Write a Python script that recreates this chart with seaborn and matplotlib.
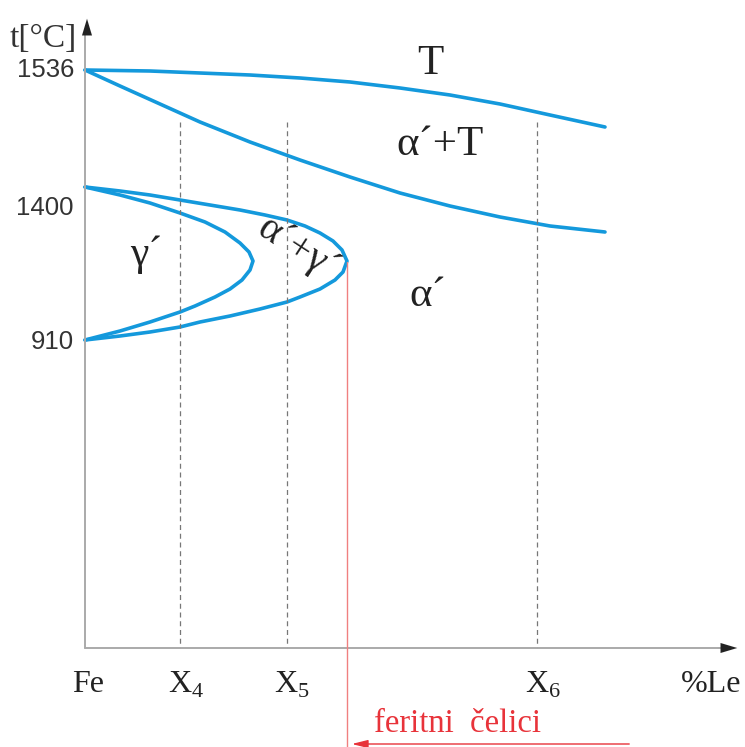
import matplotlib
matplotlib.use("Agg")
import matplotlib.pyplot as plt
import seaborn as sns
import pandas as pd

# --- data (schematic diagram, coordinates in figure pixels) ---
liq_x = [85, 150, 200, 250, 300, 350, 400, 450, 500, 550, 605]
liq_y = [70, 71, 73, 75, 78, 82, 88, 95, 104, 115, 127]

sol_x = [85, 120, 160, 200, 250, 300, 350, 400, 450, 500, 550, 605]
sol_y = [70, 86, 104, 122, 142, 160, 177, 193, 206, 217, 226, 232]

outer_x = [85, 120, 150, 180, 210, 240, 265, 287, 305, 320, 333, 342, 347,
           343, 335, 320, 300, 287, 260, 230, 200, 180, 150, 120, 85]
outer_y = [187, 191, 195, 200, 205, 210, 215, 220, 226, 233, 241, 250, 261,
           272, 280, 289, 297, 302, 309, 316, 322, 327, 332, 336, 340]

inner_x = [85, 120, 150, 180, 205, 225, 240, 249, 253, 250, 242, 230, 215,
           195, 180, 150, 120, 85]
inner_y = [187, 195, 203, 213, 222, 232, 243, 252, 261, 270, 280, 289, 297,
           306, 312, 322, 331, 340]

y_tick_labels = ["1536", "1400", "910"]
y_tick_pos = [70, 208, 342]
x_tick_labels = ["Fe", r"X$_\mathregular{4}$", r"X$_\mathregular{5}$",
                 r"X$_\mathregular{6}$", "%Le"]
x_tick_pos = [88, 186, 292, 543, 711]
dash_x = [180, 287, 537]
ferrite_x = 347

sns.set_theme(style="white")
plt.rcParams["font.family"] = ["Liberation Serif", "DejaVu Serif"]
plt.rcParams["mathtext.fontset"] = "custom"
plt.rcParams["mathtext.rm"] = "Liberation Serif"

fig = plt.figure(figsize=(7.45, 7.47), dpi=100)
ax = fig.add_axes([0, 0, 1, 1])

blue = "#1499dc"
frames = []
for name, xs, ys in [("liq", liq_x, liq_y), ("sol", sol_x, sol_y),
                     ("outer", outer_x, outer_y), ("inner", inner_x, inner_y)]:
    frames.append(pd.DataFrame({"x": xs, "y": ys, "curve": name}))
df = pd.concat(frames, ignore_index=True)
sns.lineplot(data=df, x="x", y="y", units="curve", estimator=None, sort=False,
             color=blue, lw=2.6, ax=ax, legend=False)
for ln in ax.lines:
    ln.set_solid_joinstyle("round")
    ln.set_solid_capstyle("round")
ax.set_xlim(0, 745)
ax.set_ylim(747, 0)
ax.axis("off")

# dashed verticals
for dx in dash_x:
    ax.plot([dx, dx], [122, 648], ls=(0, (4, 3)), color="#777777", lw=0.9)

# axes with arrows
ax.plot([85, 85], [648, 30], color="#aaaaaa", lw=1.4)
ax.plot([85, 725], [648, 648], color="#aaaaaa", lw=1.4)
ax.annotate("", xy=(87, 16), xytext=(87, 40),
            arrowprops=dict(arrowstyle="-|>,head_length=1.0,head_width=0.3", color="#222222", lw=0.01))
ax.annotate("", xy=(740, 648), xytext=(715, 648),
            arrowprops=dict(arrowstyle="-|>,head_length=1.0,head_width=0.3", color="#222222", lw=0.01))

# red ferrite line
red = "#e8333a"
ax.plot([ferrite_x, ferrite_x], [262, 747], color="#f08080", lw=1.0)
ax.annotate("", xy=(ferrite_x + 2, 744), xytext=(632, 744),
            arrowprops=dict(arrowstyle="-|>,head_length=0.8,head_width=0.2", color=red, lw=1.0))
ax.text(374, 724, "feritni  čelici", color=red, fontsize=23.5, ha="left", va="center")

# y tick labels
for lab, yp in zip(y_tick_labels, y_tick_pos):
    ax.text(74, yp, lab, fontsize=18.5, ha="right", va="center",
            family=["Liberation Sans", "DejaVu Sans"], color="#333333")
ax.text(77, 39, "t[°C]", fontsize=24, ha="right", va="center", color="#333333")

# x tick labels
for lab, xp in zip(x_tick_labels, x_tick_pos):
    ax.text(xp, 685, lab, fontsize=23, ha="center", va="center", color="#222222")

# phase labels
ax.text(430, 64, "T", fontsize=31, ha="center", va="center", color="#222222")
ax.text(440, 145, "α´+T", fontsize=31, ha="center", va="center", color="#222222")
ax.text(146, 255, "γ´", fontsize=30, ha="center", va="center", color="#222222")
ax.text(428, 296, "α´", fontsize=31, ha="center", va="center", color="#222222")
ax.text(298, 250, "α´+γ´", fontsize=29, ha="center", va="center", rotation=-33,
        color="#222222")

fig.savefig("out.png", dpi=100)
